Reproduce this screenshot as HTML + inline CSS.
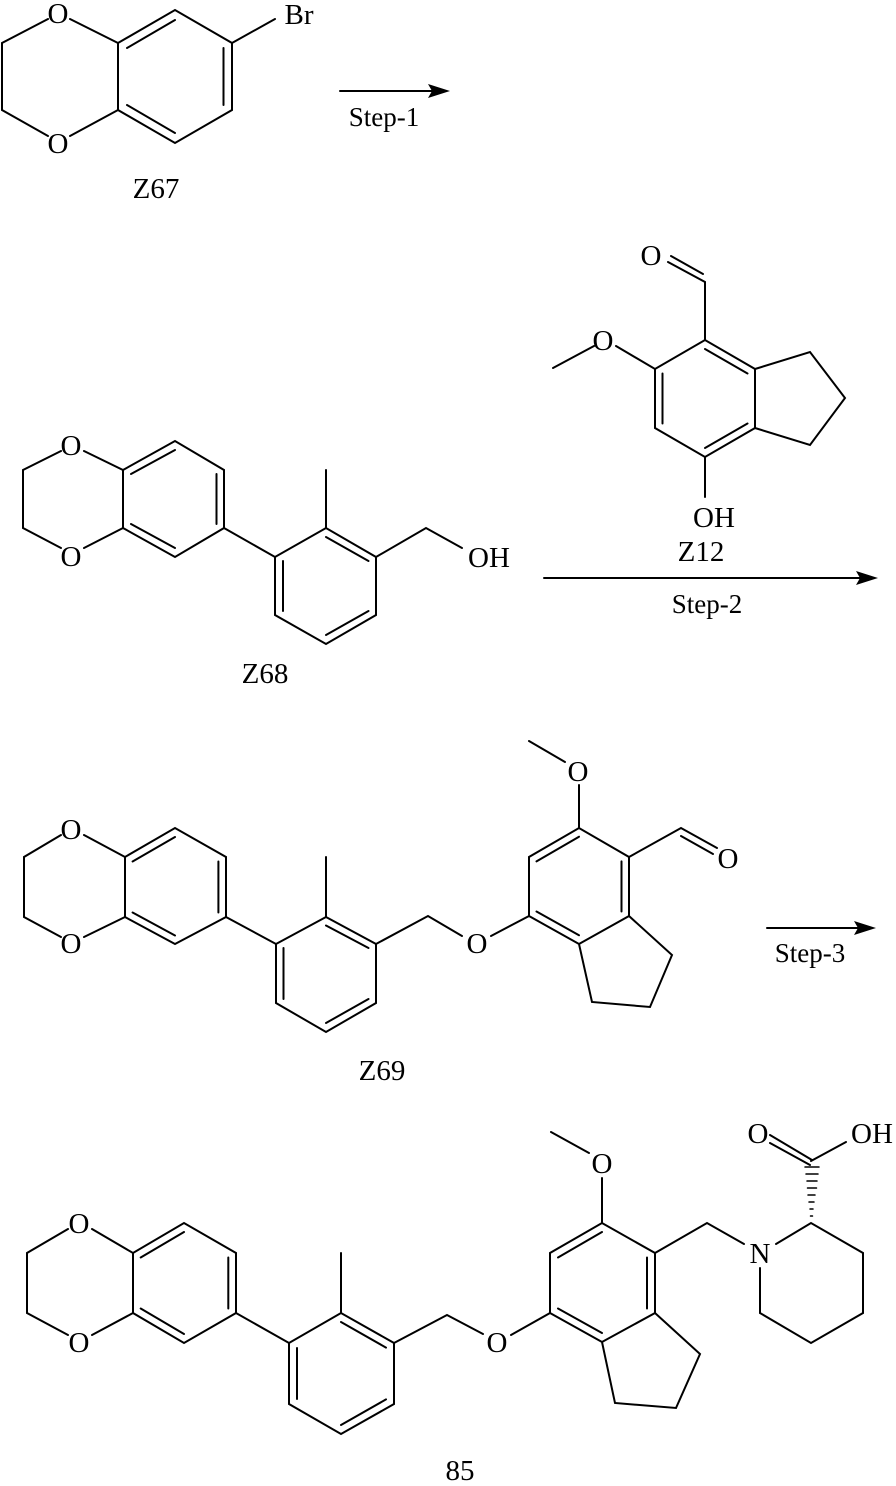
<!DOCTYPE html>
<html><head><meta charset="utf-8"><style>
html,body{margin:0;padding:0;background:#fff;}
svg{display:block;}
svg text{font-family:"Liberation Serif",serif;font-size:29px;fill:#000;text-anchor:middle;}
svg text.s{font-size:27px;}
</style></head><body>
<svg width="896" height="1486" viewBox="0 0 896 1486" xmlns="http://www.w3.org/2000/svg">
<g stroke="#000" stroke-width="2" fill="none" stroke-linecap="round">
<!-- Z67 -->
<path d="M48,19 L2,43 L2,110 L48,136 M70,19 L118,43 L175,10 L232,43 L232,110 L175,143 L118,110 L118,43 M118,110 L70,136 M232,43 L275,19"/>
<path d="M127,48 L175,20 M223.5,48 L223.5,105 M127,105 L175,133"/>
<!-- Z68 -->
<path d="M61,451 L23,470 L23,528 L61,548 M84,451 L123,470 L175,441 L224,470 L224,528 L175,557 L123,528 L123,470 M123,528 L84,548 M224,528 L275,557 L326,528 L376,557 L376,615 L326,644 L275,615 L275,557 M326,528 L326,470 M376,557 L426,528 L462,548"/>
<path d="M131,474 L175,450 M216.5,474 L216.5,524 M131,524 L175,548 M283,561 L283,611 M326,537 L368.5,561 M326,635 L368.5,611"/>
<!-- Z12 -->
<path d="M553,368 L594,346 M616,346 L655,369 L705,340 L755,369 L755,428 L705,457 L655,428 L655,369 M705,340 L705,282 L668,262 M671,256 L703,274 M755,369 L810,352 L845,398 L810,445 L755,428 M705,457 L705,497"/>
<path d="M705,349 L747.5,373.5 M662.5,373.5 L662.5,423.5 M705,448 L747.5,423.5"/>
<!-- Z69 -->
<path d="M61,835 L24,857 L24,917 L61,937 M84,835 L125,857 L175,828 L226,857 L226,917 L175,944 L125,917 L125,857 M125,917 L84,937 M226,917 L276,944 L326,917 L376,944 L376,1003 L326,1032 L276,1003 L276,944 M326,917 L326,857 M376,944 L428,916 L462,936 M491,936 L529,916 L529,857 L579,828 L629,857 L629,916 L579,944 L529,916 M579,828 L579,785 M565,762 L529,741 M629,857 L681,828 L717,848 M681,836 L713,854 M629,916 L672,955 L650,1007 L592,1002 L579,944"/>
<path d="M132.6,861.5 L175,837 M218.4,861.5 L218.4,912.5 M132.6,912.5 L175,935.5 M283.5,948 L283.5,999 M326,925.5 L368.5,948 M326,1023 L368.5,999 M536.5,861.4 L579,836.7 M621.5,861.4 L621.5,911.5 M536.5,911.5 L579,935.3"/>
<!-- 85 -->
<path d="M68,1229 L27,1253 L27,1313 L68,1335 M92,1229 L133,1253 L184,1223 L236,1253 L236,1313 L184,1343 L133,1313 L133,1253 M133,1313 L92,1335 M236,1313 L289,1343 L341,1313 L394,1343 L394,1404 L341,1434 L289,1404 L289,1343 M341,1313 L341,1253 M394,1343 L447,1315 L483,1334 M511,1335 L550,1313 L550,1253 L602,1223 L655,1253 L655,1313 L602,1342 L550,1313 M602,1223 L602,1178 M589,1153 L551,1132 M655,1313 L700,1354 L676,1408 L615,1403 L602,1342 M655,1253 L707,1223 L744,1244 M776,1244 L811,1223 L863,1253 L863,1313 L811,1343 L760,1313 L760,1268 M811,1161 L846,1142 M770,1135 L812,1160 M770,1143 L810,1165"/>
<path d="M140.7,1257.5 L184,1232 M228.3,1257.5 L228.3,1308.5 M140.7,1308.5 L184,1334 M297,1348 L297,1399 M341,1322 L386,1347.6 M341,1425 L386,1399.4 M558,1257.5 L602,1232 M647,1257.5 L647,1308.5 M558,1308.5 L602,1333"/>
<path stroke-width="1.5" d="M805,1167 L819,1167 M806,1174 L818,1174 M807,1181 L817,1181 M807.5,1188 L816.5,1188 M808,1195 L815,1195 M809,1202 L814,1202 M810,1209 L813,1209 M810.5,1216 L812.5,1216"/>
<!-- arrows -->
<path d="M340,91 L438,91 M544,578 L866,578 M767,928 L864,928"/>
</g>
<g fill="#000">
<polygon points="450,91 428,84 432,91 428,98"/>
<polygon points="878,578 856,571 860,578 856,585"/>
<polygon points="876,928 854,921 858,928 854,935"/>
</g>
<g font-family="Liberation Serif, serif" font-size="29" text-anchor="middle" fill="#000">
<text x="58" y="23">O</text>
<text x="58" y="153">O</text>
<text x="299" y="24">Br</text>
<text class="s" font-size="27" x="384" y="126">Step-1</text>
<text x="156" y="198">Z67</text>

<text x="71" y="455">O</text>
<text x="71" y="566">O</text>
<text x="489" y="567">OH</text>
<text x="265" y="683">Z68</text>

<text x="651" y="265">O</text>
<text x="603" y="350">O</text>
<text x="714" y="527">OH</text>
<text x="701" y="561">Z12</text>
<text class="s" font-size="27" x="707" y="613">Step-2</text>

<text x="71" y="839">O</text>
<text x="71" y="953">O</text>
<text x="477" y="953">O</text>
<text x="578" y="781">O</text>
<text x="728" y="868">O</text>
<text class="s" font-size="27" x="810" y="962">Step-3</text>
<text x="382" y="1080">Z69</text>

<text x="79" y="1233">O</text>
<text x="79" y="1352">O</text>
<text x="497" y="1352">O</text>
<text x="602" y="1173">O</text>
<text x="760" y="1263">N</text>
<text x="758" y="1143">O</text>
<text x="872" y="1143">OH</text>
<text x="460" y="1480">85</text>
</g>
</svg>
</body></html>
